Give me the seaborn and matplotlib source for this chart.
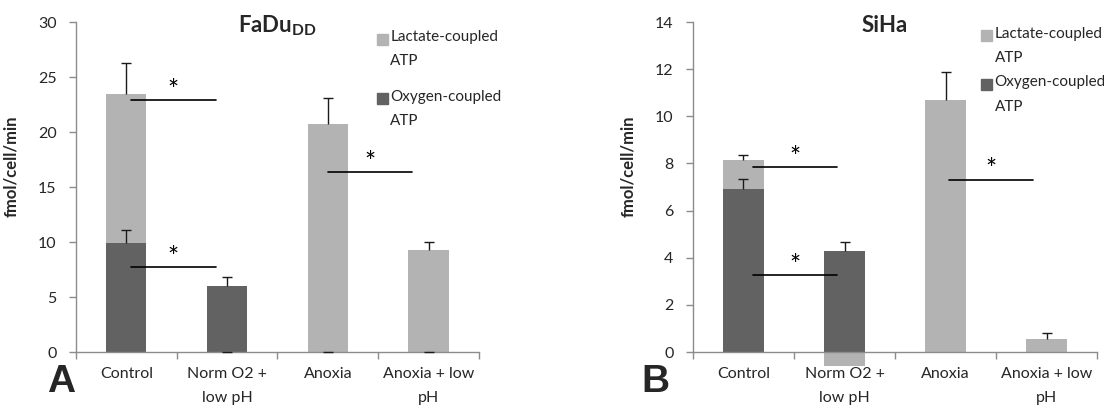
import numpy as np
import pandas as pd
import matplotlib
matplotlib.use("Agg")
import matplotlib.pyplot as plt
from matplotlib.patches import Rectangle
import seaborn as sns

# ---------------- data ----------------
categories = ["Control", "Norm O2 +\nlow pH", "Anoxia", "Anoxia + low\npH"]

fadu_oxygen = [9.94, 6.0, 0.0, 0.0]
fadu_oxygen_err = [1.16, 0.85, 0.0, 0.0]
fadu_lactate = [13.51, 0.0, 20.75, 9.27]
fadu_lactate_err = [2.85, 0.0, 2.3, 0.76]

siha_oxygen = [6.93, 4.29, 0.0, 0.0]
siha_oxygen_err = [0.41, 0.39, np.nan, np.nan]
siha_lactate = [1.2, -0.58, 10.68, 0.55]
siha_lactate_err = [0.24, np.nan, 1.2, 0.26]

# significance brackets: (x_start, x_end, y_line, x_star, y_star)
fadu_sig = [(0.05, 0.895, 22.9, 0.466, 23.7),
            (0.05, 0.895, 7.7, 0.466, 8.5),
            (2.0, 2.84, 16.33, 2.415, 17.1)]
siha_sig = [(0.096, 0.93, 7.85, 0.51, 8.2),
            (0.096, 0.93, 3.25, 0.51, 3.62),
            (2.03, 2.87, 7.31, 2.45, 7.68)]

legend_labels = ["Lactate-coupled\nATP", "Oxygen-coupled\nATP"]

# ---------------- style ----------------
sns.set_theme(style="white")
plt.rcParams["font.family"] = ["Lato", "DejaVu Sans"]
plt.rcParams["mathtext.fontset"] = "custom"
plt.rcParams["mathtext.bf"] = "Lato:bold"
plt.rcParams["mathtext.rm"] = "Lato"

LIGHT = "#b3b3b3"
DARK = "#626262"
SPINE = "#8c8c8c"

fig = plt.figure(figsize=(11.04, 4.07), dpi=100)
axA = fig.add_axes([0.0688, 0.1351, 0.365, 0.8108])
axB = fig.add_axes([0.6277, 0.1351, 0.366, 0.8108])


def panel(ax, oxy, oxy_err, lac, lac_err, ymax, ystep, sig, title, title_x,
          leg_x, leg_y):
    oxy = np.array(oxy, float)
    lac = np.array(lac, float)
    lac_bottom = np.where(lac > 0, oxy, 0.0)
    df = pd.DataFrame({"cat": categories, "oxy": oxy, "lac": lac})
    sns.barplot(data=df, x="cat", y="oxy", color=DARK, width=0.4,
                saturation=1, errorbar=None, edgecolor="none", ax=ax,
                order=categories)
    sns.barplot(data=df, x="cat", y="lac", color=LIGHT, width=0.4,
                saturation=1, errorbar=None, edgecolor="none", ax=ax,
                order=categories, bottom=lac_bottom)
    for p in ax.patches:
        p.set_clip_on(False)

    xs = np.arange(len(categories))
    # error bars (upward only, single cap)
    for tops, errs in ((oxy, oxy_err), (lac_bottom + lac, lac_err)):
        errs = np.array(errs, float)
        m = ~np.isnan(errs)
        ax.vlines(xs[m], tops[m], tops[m] + errs[m], color="#1a1a1a",
                  lw=1.0, zorder=5, clip_on=False)
        ax.plot(xs[m], tops[m] + errs[m], ls="none", marker="_",
                markersize=7, markeredgewidth=1.0, color="#1a1a1a",
                zorder=5, clip_on=False)

    # significance lines
    for x0, x1, yl, xs_, ys_ in sig:
        ax.plot([x0, x1], [yl, yl], color="black", lw=1.2, zorder=6)
        ax.text(xs_, ys_, "*", ha="center", va="center", fontsize=19,
                color="black", zorder=6)

    ax.set_xlim(-0.5, len(categories) - 0.5)
    ax.set_ylim(0, ymax)
    ax.set_yticks(np.arange(0, ymax + 0.001, ystep))
    ax.set_xticks(xs)
    ax.set_xticklabels(categories, fontsize=11.5, linespacing=1.9)
    ax.set_xticks(np.arange(len(categories) + 1) - 0.5, minor=True)
    ax.tick_params(axis="x", which="major", length=0, pad=11)
    ax.tick_params(axis="x", which="minor", length=5, width=1, color=SPINE,
                   direction="out", bottom=True)
    ax.tick_params(axis="y", length=5, width=1, color=SPINE, direction="out",
                   pad=9, labelsize=11.5, left=True)
    ax.set_xlabel("")
    ax.set_ylabel("fmol/cell/min", fontsize=12, fontweight="bold")
    ax.yaxis.set_label_coords(-0.141, 0.562)
    for s in ("top", "right"):
        ax.spines[s].set_visible(False)
    for s in ("left", "bottom"):
        ax.spines[s].set_color(SPINE)
        ax.spines[s].set_linewidth(1)
    ax.grid(False)

    ax.text(title_x, 0.97, title, transform=ax.transAxes, ha="center",
            va="baseline", fontsize=16, fontweight="bold")

    # legend (manual, square aligned with first line)
    sq_w = 11 / 403
    sq_h = 11 / 330
    for col, lab, yc in zip((LIGHT, DARK), legend_labels, leg_y):
        ax.add_patch(Rectangle((leg_x, yc - sq_h / 2), sq_w, sq_h,
                               transform=ax.transAxes, color=col,
                               clip_on=False))
        ax.text(leg_x + sq_w + 0.006, yc + 0.028, lab, transform=ax.transAxes,
                ha="left", va="top", fontsize=11, linespacing=1.95)


panel(axA, fadu_oxygen, fadu_oxygen_err, fadu_lactate, fadu_lactate_err,
      30, 5, fadu_sig, r"$\mathbf{FaDu}_{\mathbf{DD}}$", 0.5,
      0.747, (0.948, 0.767))
panel(axB, siha_oxygen, siha_oxygen_err, siha_lactate, siha_lactate_err,
      14, 2, siha_sig, "SiHa", 0.475,
      0.713, (0.958, 0.811))

fig.text(0.0553, 0.0369, "A", fontsize=28, fontweight="bold",
         family=["Liberation Sans", "DejaVu Sans"], ha="center",
         va="baseline")
fig.text(0.594, 0.0369, "B", fontsize=28, fontweight="bold",
         family=["Liberation Sans", "DejaVu Sans"], ha="center",
         va="baseline")

fig.savefig("out.png", dpi=100)
